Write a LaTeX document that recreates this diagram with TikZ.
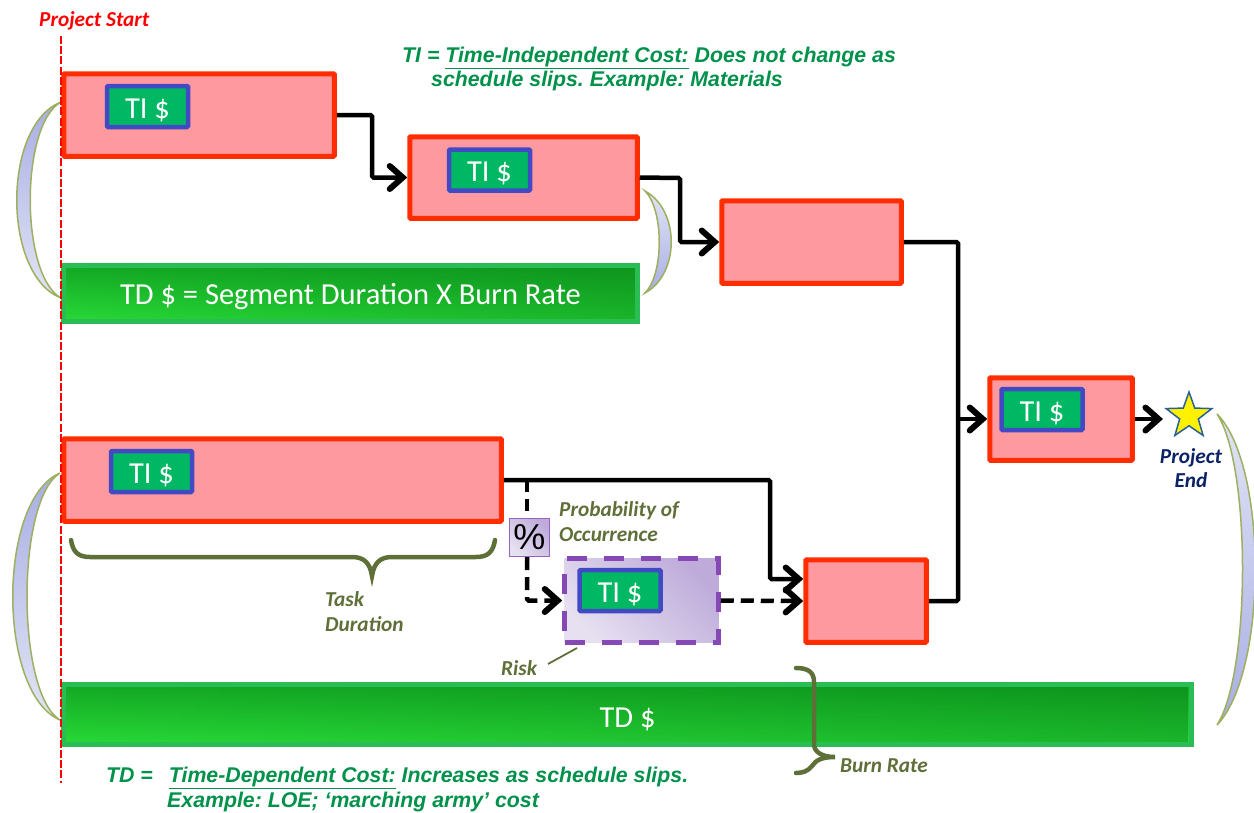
\documentclass[tikz,border=0pt]{standalone}
\usepackage{fontspec}
\setmainfont{Carlito}
\newfontfamily\arialf{Liberation Sans}
\usetikzlibrary{arrows.meta,shapes.geometric,fadings}
\definecolor{taskfill}{HTML}{FF99A0}
\definecolor{taskline}{HTML}{FF2D00}
\definecolor{badgefill}{HTML}{00B864}
\definecolor{badgeline}{HTML}{4249C4}
\definecolor{barline}{HTML}{2BBD55}
\definecolor{bardark}{HTML}{14A824}
\definecolor{barlight}{HTML}{28DA38}
\definecolor{barshadow}{HTML}{006B10}
\definecolor{olive}{HTML}{5F6F38}
\definecolor{noteg}{HTML}{00924A}
\definecolor{navy}{HTML}{0B2265}
\definecolor{riskline}{HTML}{8648B4}
\definecolor{risklight}{HTML}{E6E0F1}
\definecolor{riskdark}{HTML}{BEABDA}
\definecolor{crescline}{HTML}{9DB060}
\definecolor{cresdark}{HTML}{A8AEE4}
\definecolor{creslight}{HTML}{E2E4F6}
\definecolor{starline}{HTML}{2A5F9E}
\tikzfading[name=darkright,left color=transparent!100,right color=transparent!0]
\tikzset{
 taskbox/.style={draw=taskline,fill=taskfill,line width=5pt,rounded corners=1pt,inner sep=0pt},
 badge/.style={draw=badgeline,fill=badgefill,line width=4.5pt,rounded corners=1pt,inner sep=0pt,
   minimum width=81pt,minimum height=41pt,text=white,text height=23pt,text depth=0pt,font=\fontsize{30.5}{32}\selectfont},
 costbar/.style={draw=barline,line width=5pt,inner sep=0pt,top color=bardark,bottom color=barlight},
 barshade/.style={fill=barshadow,opacity=.32,path fading=darkright},
 barlabel/.style={inner sep=0pt,text=white,text depth=0pt,font=\fontsize{30.5}{34}\selectfont},
 riskbox/.style={draw=riskline,line width=4.5pt,dash pattern=on 20pt off 17pt,inner sep=0pt,
   top color=riskdark,bottom color=risklight,shading angle=-45},
 pctbox/.style={draw=riskline!85!white,line width=1.2pt,inner sep=0pt,text=black,
   top color=riskdark,bottom color=risklight,shading angle=-45,font=\arialf\fontsize{36}{38}\selectfont},
 link/.style={draw=black,line width=4.5pt,rounded corners=1.5pt},
 tipped/.style={link,-{Straight Barb[length=13pt,width=23pt,line width=6pt,line cap=round]}},
 droplink/.style={link,dash pattern=on 12pt off 7pt},
 droptipped/.style={tipped,dash pattern=on 13pt off 7pt},
 brace/.style={draw=olive,line width=4.5pt,line cap=round},
 crescent/.style={draw=crescline,line width=1.5pt},
 olivetxt/.style={text=olive,font=\bfseries\itshape\fontsize{21.3}{24}\selectfont,anchor=base west,inner sep=0pt},
 notetxt/.style={text=noteg,font=\arialf\bfseries\itshape\frenchspacing\fontsize{21.3}{24}\selectfont,anchor=base west,inner sep=0pt},
}
\begin{document}
\begin{tikzpicture}[x=1pt,y=-1pt]
\useasboundingbox (0,0) rectangle (1254,812);
% crescents
\path[crescent,top color=cresdark,bottom color=creslight]
  (61,102) .. controls (2,125) and (2,275) .. (61,298) .. controls (20,275) and (20,125) .. (61,102) -- cycle;
\path[crescent,top color=cresdark,bottom color=creslight]
  (60,473) .. controls (-3,500) and (-3,693) .. (60,720) .. controls (16,693) and (16,500) .. (60,473) -- cycle;
\path[crescent,top color=creslight,bottom color=cresdark]
  (645,191) .. controls (680,210) and (680,274) .. (645,293) .. controls (664,274) and (664,210) .. (645,191) -- cycle;
\path[crescent,top color=creslight,bottom color=cresdark]
  (1217,414) .. controls (1268,465) and (1268,672) .. (1217,725) .. controls (1251,672) and (1251,465) .. (1217,414) -- cycle;
% cost bars
\node[costbar,minimum width=574pt,minimum height=56pt] (bar1) at (350.5,293.5) {};
\node[costbar,minimum width=1128pt,minimum height=60pt] (bar2) at (627.5,714.5) {};
\fill[barshade] ([xshift=5pt,yshift=5pt]bar1.south west) rectangle ([xshift=-5pt,yshift=-5pt]bar1.north east);
\fill[barshade] ([xshift=5pt,yshift=5pt]bar2.south west) rectangle ([xshift=-5pt,yshift=-5pt]bar2.north east);
\node[barlabel,text height=21pt] (bar1txt) at (350.5,293.5) {TD \$ = Segment Duration X Burn Rate};
\node[barlabel,text height=26pt] (bar2txt) at (627.5,714.5) {TD \$};
% tasks
\node[taskbox,minimum width=270.5pt,minimum height=82.5pt] (t1) at (199,115) {};
\node[taskbox,minimum width=227.5pt,minimum height=81.5pt] (t2) at (523.5,177.5) {};
\node[taskbox,minimum width=179.5pt,minimum height=82.5pt] (t3) at (811.5,242) {};
\node[taskbox,minimum width=142.5pt,minimum height=82.5pt] (t4) at (1061,419) {};
\node[taskbox,minimum width=437.5pt,minimum height=82.5pt] (t5) at (282.5,480) {};
\node[taskbox,minimum width=120.5pt,minimum height=82.5pt] (t6) at (866,601) {};
\node[riskbox,minimum width=154pt,minimum height=84pt] (risk) at (641.5,600.5) {};
\node[pctbox,minimum width=40pt,minimum height=38pt] (pct) at (529.5,537.5) {\%};
% badges
\node[badge] (b1) at (147.5,106.5) {TI \$};
\node[badge] (b2) at (489.5,170) {TI \$};
\node[badge] (b4) at (1042,409.5) {TI \$};
\node[badge] (b5) at (151.5,471.5) {TI \$};
\node[badge] (b6) at (620,590.5) {TI \$};
% star
\node[star,star points=5,star point ratio=2.45,draw=starline,fill=yellow,line width=1.5pt,minimum size=48pt,inner sep=0pt] (end) at (1189,416) {};
% connectors
\coordinate (merge) at (958,419);
\coordinate (drop) at (527,480);
\coordinate (s1) at (372,115);
\coordinate (s2) at (680,178);
\coordinate (s5) at (770,480);
\coordinate (tostar) at (1163,419);
\draw[tipped] (t1.east) -- (s1) |- (t2.west);
\draw[tipped] (t2.east) -- (s2) |- (t3.west);
\draw[link] (t3.east) -| (merge);
\draw[link] (t6.east) -| (merge);
\draw[tipped] (merge) -- (t4.west);
\draw[tipped] (t4.east) -- (tostar);
\draw[tipped] (t5.east) -- (s5) |- ([yshift=22pt]t6.west);
\draw[droplink] (drop) -- (drop |- pct.north);
\draw[droptipped] (drop |- pct.south) |- (risk.west);
\draw[droptipped] (risk.east) -- (t6.west);
% braces
\draw[brace] (71,540) .. controls (73,552) and (78,557) .. (90,557) -- (352,557) .. controls (364,557) and (370,563) .. (372,576) .. controls (374,563) and (380,557) .. (392,557) -- (476,557) .. controls (488,557) and (493,552) .. (495,540);
\draw[brace] (796,668) .. controls (808,668) and (814,672) .. (814,682) -- (814,744) .. controls (814,752) and (822,757) .. (835,757) .. controls (822,757) and (816,760) .. (812,766) .. controls (808,771) and (803,773) .. (796,773);
\draw[draw=olive,line width=1.8pt] (548,664) -- (577,648);
% start line
\draw[red,line width=2.4pt,dash pattern=on 8pt off 2.2pt] (61,36) -- (61,783);
% labels
\node[anchor=base west,inner sep=0pt,text=red,font=\bfseries\itshape\fontsize{21.3}{24}\selectfont] (lstart) at (39,26) {Project Start};
\node[notetxt] (n1) at (402,62) {TI = \underline{Time-Independent Cost:} Does not change as};
\node[notetxt] (n2) at (431,86) {schedule slips. Example: Materials};
\node[notetxt] (n3) at (106,782) {TD =\hspace{16pt}\underline{Time-Dependent Cost:} Increases as schedule slips.};
\node[notetxt] (n4) at (167,807) {Example: LOE; ‘marching army’ cost};
\node[olivetxt] (l1) at (325,606) {Task};
\node[olivetxt] (l2) at (325,631) {Duration};
\node[olivetxt] (l3) at (559,516) {Probability of};
\node[olivetxt] (l4) at (559,541) {Occurrence};
\node[olivetxt] (l5) at (501,675) {Risk};
\node[olivetxt] (l6) at (840,772) {Burn Rate};
\node[olivetxt,text=navy,anchor=base] (l7) at (1191,463) {Project};
\node[olivetxt,text=navy,anchor=base] (l8) at (1191,487) {End};
\end{tikzpicture}
\end{document}
